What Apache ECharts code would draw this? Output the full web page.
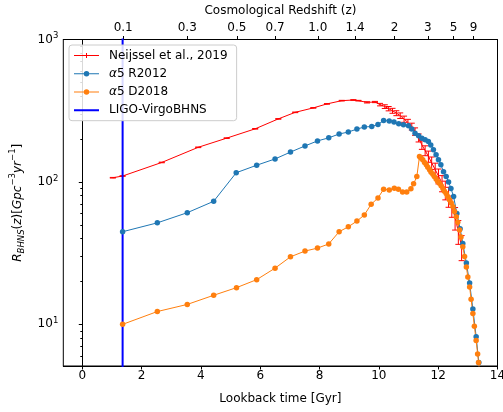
<!DOCTYPE html>
<html><head><meta charset="utf-8">
<script src="https://cdn.jsdelivr.net/npm/echarts@6/dist/echarts.min.js"></script>
<style>html,body{margin:0;padding:0;background:#fff}#c{width:503px;height:412px}</style>
</head><body><div id="c"></div>
<script>
// Neijssel et al., 2019
const neijsselT = [1.03, 1.36, 2.68, 3.91, 4.87, 5.83, 6.61, 7.18, 7.79, 8.25, 8.75, 9.14, 9.31, 9.60, 9.87, 10.04, 10.20, 10.33, 10.46, 10.59, 10.72, 10.85, 10.98, 11.11, 11.22, 11.34, 11.45, 11.56, 11.67, 11.78, 11.90, 12.01, 12.13, 12.24, 12.35, 12.46, 12.57, 12.68, 12.79];
const neijsselR = [107, 110, 137, 175, 203, 236, 277, 308, 331, 353, 372, 376, 372, 362, 364, 349, 338, 327, 316, 304, 292, 276, 262, 245, 226, 204, 182, 166, 151, 136, 122, 110, 98, 88, 79, 68, 56, 45, 35];
const neijsselErr = [0.005, 0.005, 0.005, 0.005, 0.005, 0.005, 0.005, 0.005, 0.005, 0.005, 0.005, 0.005, 0.005, 0.01, 0.01, 0.02, 0.03, 0.035, 0.04, 0.04, 0.045, 0.05, 0.05, 0.055, 0.06, 0.065, 0.07, 0.08, 0.09, 0.10, 0.11, 0.12, 0.13, 0.15, 0.16, 0.17, 0.18, 0.19, 0.20];
// alpha5 R2012
const r2012T = [1.36, 2.53, 3.54, 4.43, 5.19, 5.88, 6.50, 7.02, 7.51, 7.93, 8.31, 8.66, 8.97, 9.26, 9.51, 9.76, 9.97, 10.16, 10.35, 10.51, 10.67, 10.83, 11.00, 11.11, 11.22, 11.34, 11.45, 11.56, 11.67, 11.75, 11.84, 11.93, 12.01, 12.09, 12.18, 12.27, 12.35, 12.43, 12.52, 12.63, 12.74, 12.83, 12.95, 13.06, 13.17, 13.28, 13.37];
const r2012R = [44.7, 51.6, 60.8, 73.1, 116, 131, 145, 162, 179, 194, 204, 217, 224, 235, 243, 245, 253, 270, 268, 263, 256, 252, 248, 235, 220, 211, 203, 198, 192, 182, 168, 155, 143, 132, 118, 109, 100, 90, 79, 60, 47, 37, 27, 19.5, 12.8, 8.2, 5.4];
// alpha5 D2018
const d2018T = [1.36, 2.53, 3.54, 4.43, 5.20, 5.88, 6.50, 7.02, 7.51, 7.93, 8.31, 8.66, 8.97, 9.26, 9.51, 9.74, 9.97, 10.16, 10.35, 10.52, 10.66, 10.80, 10.94, 11.08, 11.17, 11.28, 11.37, 11.42, 11.48, 11.54, 11.60, 11.65, 11.71, 11.76, 11.82, 11.87, 11.93, 11.98, 12.04, 12.10, 12.16, 12.21, 12.27, 12.32, 12.38, 12.44, 12.50, 12.55, 12.61, 12.66, 12.72, 12.77, 12.83, 12.89, 12.95, 13.00, 13.06, 13.11, 13.17, 13.22, 13.28, 13.33, 13.36, 13.39];
const d2018R = [10.0, 12.3, 13.8, 16.0, 18.1, 20.6, 24.8, 29.8, 32.7, 34.3, 36.7, 44.7, 48.4, 53.1, 58.6, 69.7, 77.1, 88.9, 87.9, 90.3, 88.9, 85.1, 85.1, 89.4, 96.9, 109, 151, 147, 143, 137, 132, 127, 122, 117, 113, 109, 105, 101, 98, 94, 90, 86, 83, 79, 75, 71, 67, 62, 57, 52, 46, 41, 35, 30, 25.3, 21.5, 18.3, 15, 11.9, 9.7, 7.7, 6.2, 5.4, 4.8];
// LIGO-Virgo BHNS
const ligoT = [1.36, 1.36];
const ligoR = [1, 2000];
// axes
const bottomTicks = [0, 2, 4, 6, 8, 10, 12, 14];
const zTickT = [1.38, 3.54, 5.21, 6.50, 7.94, 9.20, 10.53, 11.65, 12.52, 13.19];
const zTickLabels = ['0.1', '0.3', '0.5', '0.7', '1.0', '1.4', '2', '3', '5', '9'];
const yMajor = [10, 100, 1000];
const yMinor = [6, 7, 8, 9, 20, 30, 40, 50, 60, 70, 80, 90, 200, 300, 400, 500, 600, 700, 800, 900];

const FONT = 'DejaVu Sans';
const zip = (a, b) => a.map((v, i) => [v, b[i]]);
const errData = neijsselT.map((t, i) => [t, neijsselR[i] * (1 - neijsselErr[i]), neijsselR[i] * (1 + neijsselErr[i])]);

const ICON_ERR = 'path://M0,5h50v2h-50z M24,1h2v10h-2z M0,0h0.01v12h-0.01z';
const ICON_MARK = 'path://M0,5h19.5v2h-19.5z M30.5,5h19.5v2h-19.5z M19.5,6a5.5,5.5 0 1 0 11,0a5.5,5.5 0 1 0 -11,0z';
const ICON_THICK = 'path://M0,4h50v4h-50z M0,0h0.01v12h-0.01z';

const chart = echarts.init(document.getElementById('c'), null, {renderer: 'canvas'});
const baseText = {color: '#000', fontFamily: FONT, fontSize: 12};
chart.setOption({
  animation: false,
  backgroundColor: '#fff',
  textStyle: {fontFamily: FONT},
  grid: {left: 63.3, right: 5.5, top: 39.5, bottom: 46, containLabel: false, outerBoundsMode: 'none',
    show: true, borderColor: '#000', borderWidth: 1, backgroundColor: 'transparent'},
  legend: {
    orient: 'vertical', left: 69, top: 45, z: 20,
    data: [
      {name: 'Neijssel et al., 2019', icon: ICON_ERR},
      {name: 'α5 R2012', icon: ICON_MARK},
      {name: 'α5 D2018', icon: ICON_MARK},
      {name: 'LIGO-VirgoBHNS', icon: ICON_THICK}
    ],
    itemWidth: 25, itemHeight: 7, itemGap: 4.3,
    symbolKeepAspect: true,
    padding: [3.4, 9, 3.4, 5],
    backgroundColor: 'rgba(255,255,255,0.85)', borderColor: '#cccccc', borderWidth: 1, borderRadius: 3,
    textStyle: {color: '#000', fontFamily: FONT, fontSize: 12, lineHeight: 14, padding: [0, 0, 0, 5],
      rich: {i: {fontStyle: 'italic', fontFamily: FONT, fontSize: 12, color: '#000', lineHeight: 14}, n: {fontFamily: FONT, fontSize: 12, color: '#000', lineHeight: 14}}},
    formatter: function (name) {
      if (name.indexOf('α') === 0) return '{i|α}{n|' + name.slice(1) + '}';
      return name;
    }
  },
  xAxis: [{
    type: 'value', position: 'bottom', min: -0.64, max: 14.0,
    axisLine: {show: true, onZero: false, lineStyle: {color: '#000', width: 1}},
    axisTick: {show: true, customValues: bottomTicks, length: 3.5, lineStyle: {color: '#000'}},
    axisLabel: Object.assign({customValues: bottomTicks, margin: 4}, baseText),
    splitLine: {show: false},
    name: 'Lookback time [Gyr]', nameLocation: 'middle', nameGap: 27, nameTextStyle: baseText
  }, {
    type: 'value', position: 'top', min: -0.64, max: 14.0,
    axisLine: {show: true, onZero: false, lineStyle: {color: '#000', width: 1}},
    axisTick: {show: true, customValues: zTickT, length: 3.5, lineStyle: {color: '#000'}},
    axisLabel: Object.assign({customValues: zTickT, margin: 6, formatter: function (v) {
      for (let i = 0; i < zTickT.length; i++) if (Math.abs(v - zTickT[i]) < 1e-6) return zTickLabels[i];
      return '';
    }}, baseText),
    splitLine: {show: false},
    name: 'Cosmological Redshift (z)', nameLocation: 'middle', nameGap: 21, nameTextStyle: baseText
  }],
  yAxis: [{
    type: 'log', logBase: 10, min: 5.1, max: 1000, position: 'left',
    axisLine: {show: true, lineStyle: {color: '#000', width: 1}},
    axisTick: {show: true, customValues: yMajor, length: 3.5, lineStyle: {color: '#000'}},
    axisLabel: {customValues: yMajor, margin: 5, color: '#000', fontFamily: FONT, fontSize: 12,
      formatter: function (v) { return '{b|10}{s|' + Math.round(Math.log10(v)) + '}'; },
      rich: {b: {fontFamily: FONT, fontSize: 12, color: '#000', lineHeight: 16}, s: {fontFamily: FONT, fontSize: 8.5, color: '#000', verticalAlign: 'top', lineHeight: 10}}},
    splitLine: {show: false},
    name: '{i|R}{sub|BHNS}{n|(}{i|z}{n|)[}{i|Gpc}{sup|−3}{i|yr}{sup|−1}{n|]}',
    nameLocation: 'middle', nameGap: 33, nameRotate: 90,
    nameTextStyle: {color: '#000', fontFamily: FONT, fontSize: 12,
      rich: {
        i: {fontFamily: FONT, fontSize: 12, fontStyle: 'italic', color: '#000', lineHeight: 18},
        n: {fontFamily: FONT, fontSize: 12, color: '#000', lineHeight: 18},
        sub: {fontFamily: FONT, fontSize: 8.5, fontStyle: 'italic', color: '#000', verticalAlign: 'bottom', lineHeight: 10},
        sup: {fontFamily: FONT, fontSize: 8.5, color: '#000', verticalAlign: 'top', lineHeight: 10}
      }}
  }, {
    type: 'log', logBase: 10, min: 5.1, max: 1000, position: 'left', offset: 0,
    axisLine: {show: false},
    axisTick: {show: true, customValues: yMinor, length: 2, lineStyle: {color: '#000'}},
    axisLabel: {show: false, customValues: yMinor},
    splitLine: {show: false}
  }],
  series: [{
    name: 'Neijssel et al., 2019', type: 'line', data: zip(neijsselT, neijsselR),
    symbol: 'none', lineStyle: {color: '#ff0000', width: 1}, itemStyle: {color: '#ff0000'}, z: 2
  }, {
    name: 'errbar', type: 'custom', data: errData, clip: true, z: 2,
    encode: {x: 0, y: [1, 2]},
    renderItem: function (params, api) {
      const x = api.value(0), lo = api.value(1), hi = api.value(2);
      const p1 = api.coord([x, hi]), p2 = api.coord([x, lo]);
      const w = 3, st = {stroke: '#ff0000', lineWidth: 1};
      return {type: 'group', children: [
        {type: 'line', shape: {x1: p1[0], y1: p1[1], x2: p2[0], y2: p2[1]}, style: st},
        {type: 'line', shape: {x1: p1[0] - w, y1: p1[1], x2: p1[0] + w, y2: p1[1]}, style: st},
        {type: 'line', shape: {x1: p2[0] - w, y1: p2[1], x2: p2[0] + w, y2: p2[1]}, style: st}
      ]};
    }
  }, {
    name: 'α5 R2012', type: 'line', data: zip(r2012T, r2012R),
    symbol: 'circle', symbolSize: 5.5, showSymbol: true,
    lineStyle: {color: '#1f77b4', width: 1}, itemStyle: {color: '#1f77b4'}, z: 2
  }, {
    name: 'α5 D2018', type: 'line', data: zip(d2018T, d2018R),
    symbol: 'circle', symbolSize: 5.5, showSymbol: true,
    lineStyle: {color: '#ff7f0e', width: 1}, itemStyle: {color: '#ff7f0e'}, z: 2
  }, {
    name: 'LIGO-VirgoBHNS', type: 'line', data: zip(ligoT, ligoR),
    symbol: 'none', lineStyle: {color: '#0000ff', width: 2}, itemStyle: {color: '#0000ff'}, z: 2
  }]
});
</script></body></html>
